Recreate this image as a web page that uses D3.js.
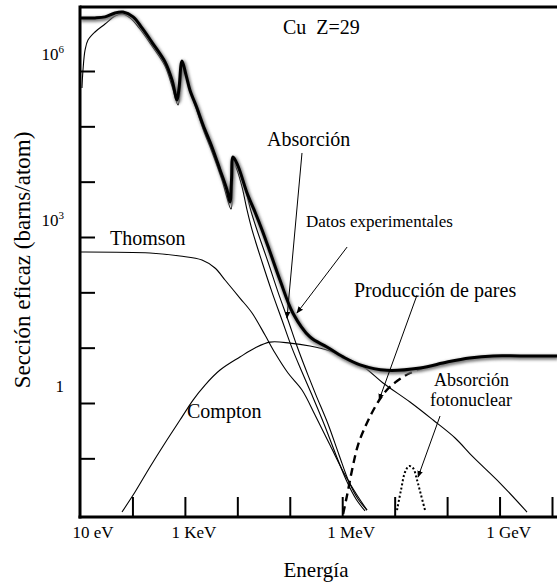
<!DOCTYPE html>
<html><head><meta charset="utf-8">
<script src="https://cdn.jsdelivr.net/npm/d3@7"></script>
<style>
body{margin:0;background:#fff}
svg{display:block}
</style>
</head><body>
<svg id="c" width="557" height="585" font-family="'Liberation Serif', 'Times New Roman', 'DejaVu Serif', serif"></svg>
<script>
// Energy in eV, cross section in barns/atom
const totalCurve = [[10,9.1e6],[19.3,9.1e6],[30,9.5e6],[46.5,1.12e7],[66,1.16e7],[103,9.5e6],[152,6.0e6],[236,3.3e6],[418,1.46e6],[568,6.9e5],[708,3.0e5],[773,4.9e5],[881,1.52e6],[1050,8.5e5],[1250,4.5e5],[1700,2.14e5],[2220,1.06e5],[3290,4.2e4],[4680,1.63e4],[6350,7060],[7240,4290],[7740,1.07e4],[8280,2.8e4],[1.03e4,1.92e4],[1.53e4,6240],[2.17e4,2830],[2.96e4,1340],[4.2e4,536],[6.5e4,167],[1.15e5,42],[2.43e5,15.6],[5.1e5,10.3],[1.04e6,6.8],[2.19e6,4.9],[7.1e6,3.9],[3.05e7,4.3],[1e8,5.5],[2.7e8,6.5],[7.5e8,7.1],[2.46e9,7.1],[1.25e10,7.1]];
const absorptionA = [[10.9,4.93e5],[11.4,1.04e6],[12.5,2.4e6],[14.2,3.63e6],[19.3,5.07e6],[30,7.06e6],[46.5,9.86e6],[63,1.07e7],[90,9.1e6],[139,5.74e6],[236,2.83e6],[418,1.23e6],[568,5.36e5],[740,2.43e5],[807,4.17e5],[920,1.34e6],[1100,6.9e5],[1370,3.53e5],[2220,8.96e4],[3290,3.44e4],[5100,1.07e4],[7590,3200],[8090,8710],[8650,2.17e4],[9870,1.63e4],[1.23e4,8020],[1.53e4,3080],[1.91e4,1340],[2.96e4,353],[4.58e4,101],[7.1e4,31.6],[1.1e5,9.9],[1.71e5,3.63],[2.65e5,1.39],[4.5e5,0.417],[7.6e5,0.115],[1.24e6,0.0373],[1.83e6,0.0184],[2.72e6,0.0112]];
const absorptionB = [[9040,2.46e4],[1.12e4,1.5e4],[1.47e4,6500],[1.82e4,2950],[2.37e4,1340],[3.85e4,353],[5.97e4,101],[9.25e4,31.6],[1.37e5,10.7],[2.04e5,3.94],[3.16e5,1.39],[5.36e5,0.417],[8.7e5,0.115],[1.35e6,0.0373],[2.0e6,0.0184],[2.97e6,0.0116]];
const thomson = [[10,536],[216,514],[807,453],[2120,384],[3750,275],[5820,167],[1.12e4,78.9],[1.91e4,42.3],[3.37e4,16.9],[5.24e4,8.0],[9.25e4,3.48],[1.71e5,1.72],[3.03e5,0.607],[5.85e5,0.174],[1.13e6,0.0499],[1.91e6,0.0217],[2.97e6,0.0116]];
const compton = [[63.2,0.0107],[112,0.0246],[216,0.0697],[418,0.189],[807,0.492],[1430,1.13],[2420,2.11],[4680,3.94],[1.12e4,6.78],[2.17e4,9.86],[4.2e4,12.6],[1.01e5,12.1],[2.43e5,10.7],[5.85e5,8.7],[1.41e6,5.98],[2.72e6,4.29],[6.0e6,2.3],[1.96e7,1.04],[5.4e7,0.492],[1.42e8,0.233],[3.12e8,0.106],[1.02e9,0.0358],[3.34e9,0.0107]];
const pairProduction = [[1.04e6,0.00986],[1.24e6,0.0217],[1.54e6,0.0615],[2.0e6,0.174],[2.84e6,0.4],[4.23e6,0.845],[6.55e6,1.58],[1.11e7,2.5],[1.96e7,3.48],[3.33e7,4.29]];
const photonuclear = [[1.11e7,0.0116],[1.32e7,0.0267],[1.58e7,0.0566],[1.88e7,0.0726],[2.24e7,0.0668],[2.67e7,0.0405],[3.18e7,0.0217],[3.79e7,0.0116]];
// annotation arrows [from, to]
const arrows = [
  [[1.71e5,3.3e4],[8.85e4,34.4]],
  [[1.24e6,659],[1.37e5,42.3]],
  [[2.67e7,89.5],[5.04e6,1.13]],
  [[7.33e7,0.582],[2.79e7,0.0459]]
];
const xTickValues = [1e2,1e3,1e4,1e5,1e6,1e7,1e8,1e9,1e10];
const xLabelValues = [10,1e3,1e6,1e9];
const xLabelTexts = ["10 eV","1 KeV","1 MeV","1 GeV"];
const yTickValues = [1e6,1e5,1e4,1e3,1e2,10,1,0.1];
const yLabelValues = [1e6,1e3,1];
const yLabelBase = ["10","10","1"];
const yLabelSup = ["6","3",""];

const W=557,H=585;
const svg=d3.select("#c");
const x=d3.scaleLog().domain([10,1e10]).range([80,552]);
const y=d3.scaleLog().domain([1e6,1]).range([71,403]);
const frameTop=7,frameBottom=517,frameLeft=x(10);

const defs=svg.append("defs");
defs.append("filter").attr("id","blur").attr("x","-10%").attr("y","-10%").attr("width","120%").attr("height","120%")
  .append("feGaussianBlur").attr("stdDeviation",1.6);
defs.append("marker").attr("id","arr").attr("viewBox","0 0 10 10").attr("refX",9).attr("refY",5)
  .attr("markerWidth",7).attr("markerHeight",7).attr("orient","auto").attr("markerUnits","userSpaceOnUse")
  .append("path").attr("d","M0,1 L10,5 L0,9 Z").attr("fill","#000");

const line=d3.line().x(d=>x(d[0])).y(d=>y(d[1])).curve(d3.curveCatmullRom.alpha(0.5));

[absorptionA,absorptionB,thomson,compton].forEach(s=>{
  svg.append("path").attr("d",line(s)).attr("fill","none").attr("stroke","#000").attr("stroke-width",1.1);
});
svg.append("path").attr("d",line(pairProduction)).attr("fill","none").attr("stroke","#000")
  .attr("stroke-width",2.4).attr("stroke-dasharray","8,5");
svg.append("path").attr("d",line(photonuclear)).attr("fill","none").attr("stroke","#000")
  .attr("stroke-width",2).attr("stroke-dasharray","2,2.2");
svg.append("path").attr("d",line(totalCurve)).attr("fill","none").attr("stroke","#777")
  .attr("stroke-width",4.5).attr("filter","url(#blur)").attr("transform","translate(1,1.5)");
svg.append("path").attr("d",line(totalCurve)).attr("fill","none").attr("stroke","#000").attr("stroke-width",3);

arrows.forEach(a=>{
  svg.append("line").attr("x1",x(a[0][0])).attr("y1",y(a[0][1])).attr("x2",x(a[1][0])).attr("y2",y(a[1][1]))
    .attr("stroke","#000").attr("stroke-width",1).attr("marker-end","url(#arr)");
});

svg.append("line").attr("x1",frameLeft).attr("x2",W).attr("y1",frameTop).attr("y2",frameTop).attr("stroke","#000").attr("stroke-width",3);
svg.append("line").attr("x1",frameLeft).attr("x2",frameLeft).attr("y1",frameTop-1.5).attr("y2",frameBottom+1.5).attr("stroke","#000").attr("stroke-width",3);
svg.append("line").attr("x1",frameLeft-1.5).attr("x2",W).attr("y1",frameBottom).attr("y2",frameBottom).attr("stroke","#000").attr("stroke-width",3);

const gx=svg.append("g").attr("transform",`translate(0,${frameBottom})`)
  .call(d3.axisBottom(x).tickValues(xTickValues).tickSize(-20).tickFormat(""));
gx.select(".domain").remove();
gx.selectAll("line").attr("stroke-width",2);
const gy=svg.append("g").attr("transform",`translate(${frameLeft},0)`)
  .call(d3.axisLeft(y).tickValues(yTickValues).tickSize(-15).tickFormat(""));
gy.select(".domain").remove();
gy.selectAll("line").attr("stroke-width",2);

const FONT="'Liberation Serif', 'Times New Roman', 'DejaVu Serif', serif";
function txt(){ return svg.append("text").attr("font-family",FONT).attr("fill","#000"); }

xLabelValues.forEach((v,i)=>{
  txt().attr("x",x(v)+(i===0?13:9)).attr("y",538).attr("text-anchor","middle")
    .attr("font-size",17).text(xLabelTexts[i]);
});
yLabelValues.forEach((v,i)=>{
  const t=txt().attr("x",64).attr("y",y(v)-11).attr("text-anchor","end").attr("font-size",17);
  t.append("tspan").text(yLabelBase[i]);
  if(yLabelSup[i]) t.append("tspan").attr("font-size",11).attr("dy",-7).text(yLabelSup[i]);
});

txt().attr("x",316).attr("y",577).attr("text-anchor","middle").attr("font-size",21).text("Energía");
txt().attr("transform","translate(30,260) rotate(-90)").attr("text-anchor","middle")
  .attr("font-size",23).text("Sección eficaz (barns/atom)");

const labels=[
  ["Cu  Z=29",283,34,20],
  ["Absorción",267,146,20],
  ["Datos experimentales",306,227,17],
  ["Thomson",110,245,20],
  ["Producción de pares",354,297,20],
  ["Compton",187,418,20],
  ["Absorción",434,386,18],
  ["fotonuclear",430,406,18]
];
labels.forEach(l=>{
  txt().attr("x",l[1]).attr("y",l[2]).attr("font-size",l[3]).style("white-space","pre").text(l[0]);
});
</script>
</body></html>
